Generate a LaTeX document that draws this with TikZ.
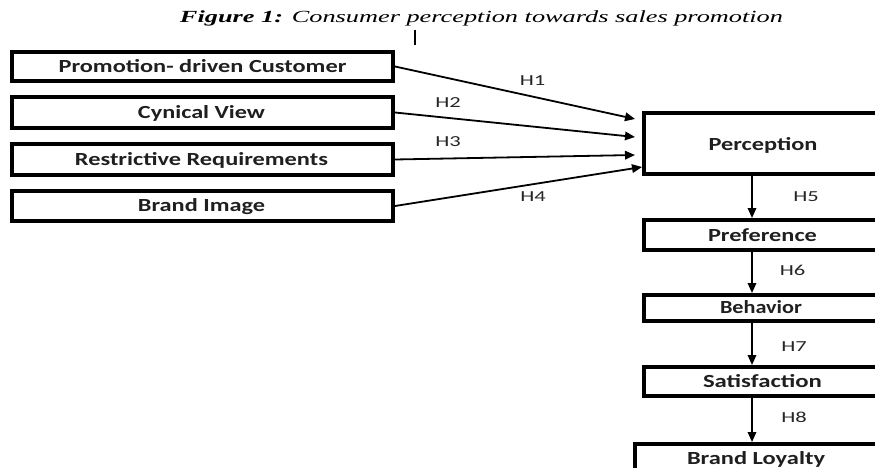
\documentclass[tikz,border=0pt]{standalone}
\usepackage{fontspec}
\setmainfont{Carlito}
\newfontfamily\titlefont{Liberation Serif}
\usetikzlibrary{arrows.meta}
\newcommand\bfnt{\fontsize{18.5}{20}\selectfont\bfseries}
\newcommand\bx[2]{\resizebox{#1}{\height}{\bfnt #2}}
\newcommand\hl[1]{\resizebox{25.5pt}{\height}{\fontsize{15.3}{16}\selectfont #1}}
\newlength\rrw
\begin{document}
\settowidth\rrw{\bfnt Restrictive Requirements}%
\pgfmathsetmacro\sxb{253/\rrw}%
\begin{tikzpicture}[x=1pt,y=-1pt,
  box/.style={draw=black,line width=4pt,inner sep=0pt,rectangle},
  arr/.style={line width=1.8pt,-{Triangle[length=10pt,width=8.5pt]}},
  txt/.style={anchor=base,inner sep=0pt,text=black!88},
  lab/.style={anchor=center,inner sep=0pt,text=black!85}]
\useasboundingbox (0,0) rectangle (875,468);
\clip (0,0) rectangle (875,468);
% title
\node[anchor=base,inner sep=0pt] (title) at (481.5,23)
  {\resizebox{603pt}{\height}{\titlefont\fontsize{17}{18}\selectfont\textbf{\textit{Figure 1:}} \textit{Consumer perception towards sales promotion}}};
\coordinate (tk1) at (415,30);
\coordinate (tk2) at (415,45);
\draw[line width=1.2pt] (tk1) -- (tk2);
% left boxes
\node[box,minimum width=381pt,minimum height=29pt] (b1) at (202.5,66.5) {};
\node[box,minimum width=381pt,minimum height=31pt] (b2) at (202.5,112.5) {};
\node[box,minimum width=381pt,minimum height=31pt] (b3) at (202.5,159.5) {};
\node[box,minimum width=381pt,minimum height=30pt] (b4) at (202.5,206) {};
\node[txt] (t1) at (202.5,72.8) {\scalebox{\sxb}[1]{\bfnt Promotion- driven Customer}};
\node[txt] (t2) at (201.5,118.3) {\bx{127pt}{Cynical View}};
\node[txt] (t3) at (201.5,165.3) {\bx{253pt}{Restrictive Requirements}};
\node[txt] (t4) at (201.5,211.8) {\bx{127pt}{Brand Image}};
% right column
\node[box,minimum width=238pt,minimum height=61pt] (per) at (763,143.5) {};
\node[box,minimum width=238pt,minimum height=30pt] (pref) at (763,235) {};
\node[box,minimum width=238pt,minimum height=26pt] (beh) at (763,308) {};
\node[box,minimum width=238pt,minimum height=29pt] (sat) at (763,381.5) {};
\node[box,minimum width=245pt,minimum height=40pt] (bl) at (757.5,464) {};
\node[txt] (tper) at (763,150.8) {\bx{109pt}{Perception}};
\node[txt] (tpref) at (762.5,241.8) {\bx{109pt}{Preference}};
\node[txt] (tbeh) at (761,313.3) {\bx{82pt}{Behavior}};
\node[txt] (tsat) at (762.5,387.3) {\bx{119pt}{Satisfaction}};
\node[txt] (tbl) at (756,464.8) {\bx{138pt}{Brand Loyalty}};
% arrows into perception
\coordinate (e1) at (635,119);
\coordinate (e2) at (635,137);
\coordinate (e3) at (635,155);
\coordinate (e4) at (642,167);
\draw[arr] (b1.east) -- (e1);
\draw[arr] (b2.east) -- (e2);
\draw[arr] (b3.east) -- (e3);
\draw[arr] (b4.east) -- (e4);
% vertical arrows
\coordinate (v) at (752,0);
\draw[arr] (per.south -| v) -- (pref.north -| v);
\draw[arr] (pref.south -| v) -- (beh.north -| v);
\draw[arr] (beh.south -| v) -- (sat.north -| v);
\draw[arr] (sat.south -| v) -- (bl.north -| v);
% labels
\node[lab] (h1) at (532.5,81) {\hl{H1}};
\node[lab] (h2) at (448,103) {\hl{H2}};
\node[lab] (h3) at (448,142) {\hl{H3}};
\node[lab] (h4) at (533,196.5) {\hl{H4}};
\node[lab] (h5) at (806,197) {\hl{H5}};
\node[lab] (h6) at (792.5,270) {\hl{H6}};
\node[lab] (h7) at (794,347) {\hl{H7}};
\node[lab] (h8) at (794,417) {\hl{H8}};
\end{tikzpicture}
\end{document}
